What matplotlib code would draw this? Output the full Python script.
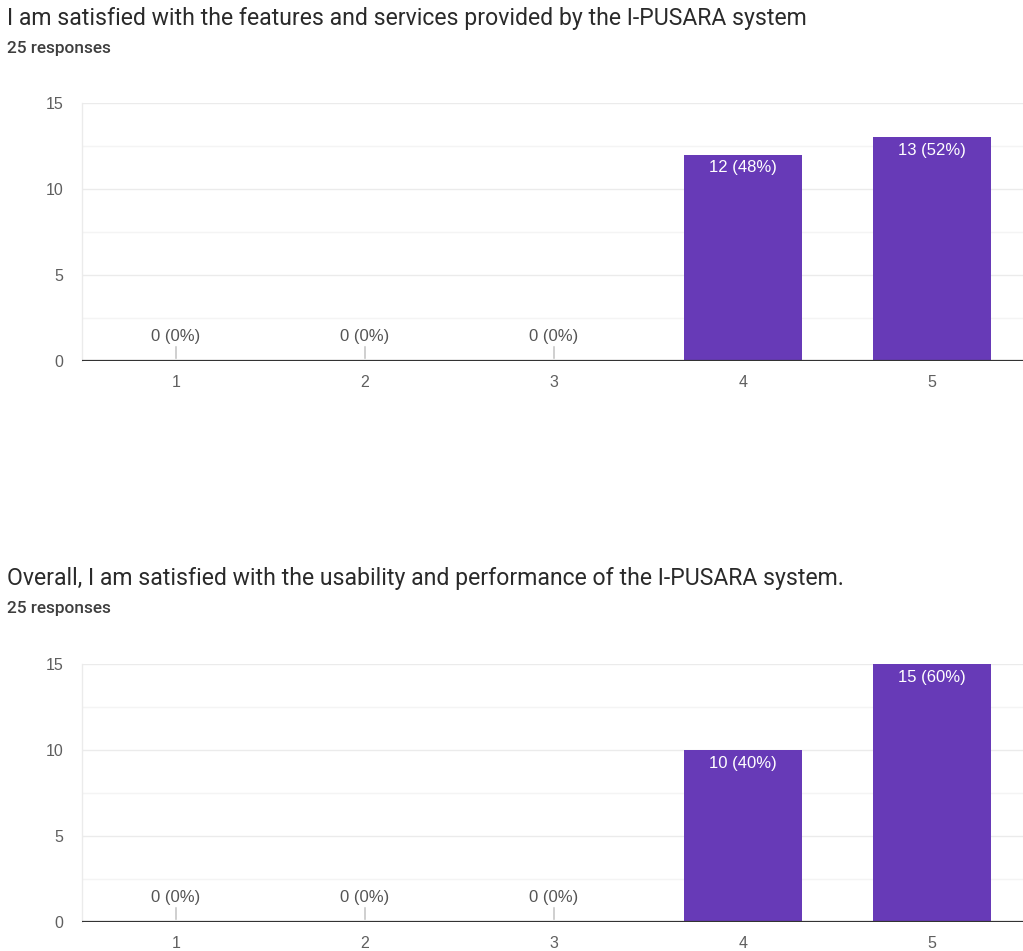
import matplotlib
matplotlib.use("Agg")
import matplotlib.pyplot as plt
from matplotlib.ticker import MultipleLocator

categories = ["1", "2", "3", "4", "5"]
counts_q1 = [0, 0, 0, 12, 13]
counts_q2 = [0, 0, 0, 10, 15]
pct_q1 = [0, 0, 0, 48, 52]
pct_q2 = [0, 0, 0, 40, 60]
titles = [
    "I am satisfied with the features and services provided by the I-PUSARA system",
    "Overall, I am satisfied with the usability and performance of the I-PUSARA system.",
]
subtitle = "25 responses"
yticks = [0, 5, 10, 15]

BAR = "#673ab7"
W, H = 1023, 951
fig = plt.figure(figsize=(W / 100, H / 100), dpi=100)

def fx(px):
    return px / W

def fy(py):
    return 1 - py / H

panels = [
    dict(counts=counts_q1, pct=pct_q1, title=titles[0], ty=19, sy=48, top=103, bot=361),
    dict(counts=counts_q2, pct=pct_q2, title=titles[1], ty=579, sy=608, top=664, bot=922),
]

FONT = "Liberation Sans"
for p in panels:
    fig.text(fx(7), fy(p["ty"]), p["title"], fontsize=16.6, family="Roboto",
             color="#2a2a2a", va="center", ha="left")
    fig.text(fx(7), fy(p["sy"]), subtitle, fontsize=12.4, family="Roboto",
             color="#3e3e3e", va="center", ha="left", weight="medium")
    left = 81.5
    ax = fig.add_axes([fx(left), fy(p["bot"]), fx(945), (p["bot"] - p["top"]) / H])
    x = list(range(1, len(categories) + 1))
    ax.set_xlim(0.5, 5.5)
    ax.set_ylim(0, 15)
    ax.yaxis.set_major_locator(MultipleLocator(5))
    ax.yaxis.set_minor_locator(MultipleLocator(2.5))
    ax.grid(True, which="major", axis="y", color="#ebebeb", lw=1)
    ax.grid(True, which="minor", axis="y", color="#f4f4f4", lw=1)
    ax.set_axisbelow(True)
    for s in ["top", "right", "bottom"]:
        ax.spines[s].set_visible(False)
    ax.spines["left"].set_color("#ebebeb")
    ax.spines["left"].set_linewidth(1)
    ax.axhline(0, color="#333333", lw=1.6, zorder=5)
    ax.bar(x, p["counts"], width=0.624, color=BAR, zorder=3)
    ax.set_xticks(x)
    ax.set_xticklabels(categories)
    ax.set_yticks(yticks)
    ax.tick_params(axis="both", which="both", length=0, labelsize=11.5, labelcolor="#5f5f5f")
    ax.tick_params(axis="x", pad=10)
    ax.tick_params(axis="y", pad=13)
    for lab in ax.get_xticklabels() + ax.get_yticklabels():
        lab.set_family(FONT)
    for xi, c, pc in zip(x, p["counts"], p["pct"]):
        label = f"{c} ({pc}%)"
        if c == 0:
            ax.annotate("", xy=(xi, 0), xytext=(0, 12.2), textcoords="offset points",
                        arrowprops=dict(arrowstyle="-", color="#cccccc", lw=1.3))
            ax.annotate(label, xy=(xi, 0), xytext=(0, 17.3), textcoords="offset points",
                        ha="center", va="center", fontsize=12, family=FONT,
                        color="#555555")
        else:
            ax.annotate(label, xy=(xi, c), xytext=(0, -9.5), textcoords="offset points",
                        ha="center", va="center", fontsize=12, family=FONT,
                        color="white", zorder=6)

fig.savefig("out.png", dpi=100)
